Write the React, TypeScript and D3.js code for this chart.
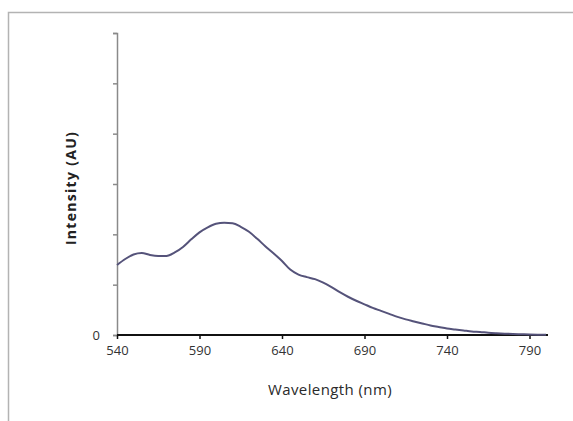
import React, { useRef, useEffect } from "react";
import * as d3 from "d3";

// emission spectrum
const wavelengths = [
  540, 545, 550, 555, 560, 565, 570, 575, 580, 585, 590, 595, 600, 605, 610,
  615, 620, 625, 630, 635, 640, 645, 650, 655, 660, 665, 670, 675, 680, 685,
  690, 695, 700, 705, 710, 715, 720, 725, 730, 735, 740, 745, 750, 755, 760,
  765, 770, 775, 780, 785, 790, 795, 800,
];
const intensity = [
  1.39, 1.51, 1.6, 1.63, 1.59, 1.57, 1.57, 1.64, 1.75, 1.9, 2.04, 2.14, 2.21,
  2.23, 2.22, 2.15, 2.05, 1.91, 1.76, 1.62, 1.47, 1.3, 1.2, 1.15, 1.11, 1.04,
  0.95, 0.85, 0.76, 0.68, 0.61, 0.54, 0.48, 0.42, 0.36, 0.31, 0.27, 0.23, 0.19,
  0.16, 0.13, 0.11, 0.09, 0.07, 0.06, 0.045, 0.035, 0.027, 0.02, 0.015, 0.01,
  0.007, 0.005,
];
const xTicks = [540, 590, 640, 690, 740, 790];
const yTicks = [0, 1, 2, 3, 4, 5, 6];

const W = 573;
const H = 421;
const font = "'Open Sans', sans-serif";

function App() {
  const svgRef = useRef(null);

  useEffect(() => {
    const svg = d3.select(svgRef.current);
    svg.selectAll("*").remove();

    const x = d3.scaleLinear().domain([540, 800]).range([117, 546]);
    const y = d3.scaleLinear().domain([0, 6]).range([335, 33]);

    // outer frame (cropped on right/bottom)
    svg
      .append("rect")
      .attr("x", 8.5)
      .attr("y", 12.5)
      .attr("width", 700)
      .attr("height", 600)
      .attr("fill", "none")
      .attr("stroke", "#b3b3b3")
      .attr("stroke-width", 1.5);

    // y axis
    const yAxis = svg.append("g").attr("transform", `translate(${x(540)},0)`);
    yAxis
      .call(
        d3
          .axisLeft(y)
          .tickValues(yTicks)
          .tickSize(4)
          .tickFormat((d) => (d === 0 ? "0" : ""))
      )
      .call((g) => g.select(".domain").attr("stroke", "#8a8a8a").attr("stroke-width", 1.5))
      .call((g) => g.selectAll(".tick line").attr("stroke", "#8a8a8a").attr("stroke-width", 1.5))
      .call((g) =>
        g
          .selectAll(".tick text")
          .attr("x", -17)
          .attr("fill", "#333")
          .style("font-family", font)
          .style("font-size", "13px")
      );

    // x axis
    const xAxis = svg.append("g").attr("transform", `translate(0,${y(0)})`);
    xAxis
      .call(d3.axisBottom(x).tickValues(xTicks).tickSize(4).tickSizeOuter(0))
      .call((g) =>
        g.select(".domain").attr("d", `M${x(540)},0H${x(800) + 2}`).attr("stroke", "#111").attr("stroke-width", 2.2)
      )
      .call((g) => g.selectAll(".tick line").attr("stroke", "#111").attr("stroke-width", 1.5))
      .call((g) =>
        g
          .selectAll(".tick text")
          .attr("y", 11)
          .attr("fill", "#333")
          .style("font-family", font)
          .style("font-size", "13px")
      );

    // spectrum line
    const pts = wavelengths.map((w, i) => [w, intensity[i]]);
    svg
      .append("path")
      .datum(pts)
      .attr("fill", "none")
      .attr("stroke", "#55537a")
      .attr("stroke-width", 2)
      .attr(
        "d",
        d3
          .line()
          .x((d) => x(d[0]))
          .y((d) => y(d[1]))
          .curve(d3.curveMonotoneX)
      );

    // titles
    svg
      .append("text")
      .attr("x", 330)
      .attr("y", 395)
      .attr("text-anchor", "middle")
      .attr("fill", "#2a2a2a")
      .style("font-family", font)
      .style("font-size", "15px")
      .style("letter-spacing", "0.4px")
      .text("Wavelength (nm)");

    svg
      .append("text")
      .attr("transform", "translate(76,188) rotate(-90)")
      .attr("text-anchor", "middle")
      .attr("fill", "#222")
      .style("font-family", font)
      .style("font-size", "14px")
      .style("font-weight", "bold")
      .style("letter-spacing", "1.3px")
      .text("Intensity (AU)");
  }, []);

  return (
    <svg
      ref={svgRef}
      width={W}
      height={H}
      style={{ position: "absolute", left: 0, top: 0, background: "#fff" }}
    ></svg>
  );
}

export default App;
